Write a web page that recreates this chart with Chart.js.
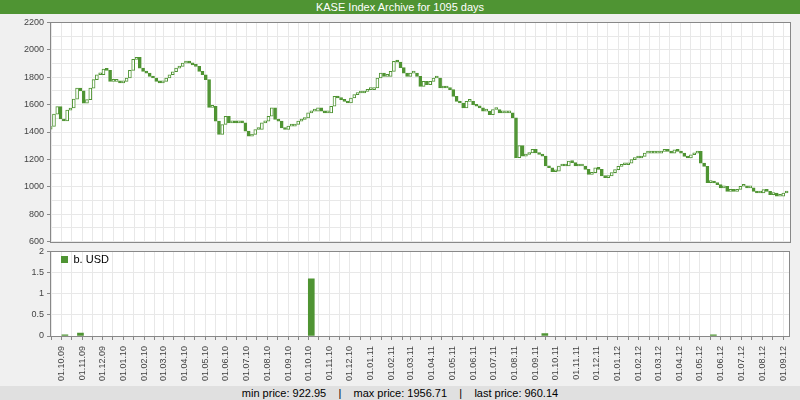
<!DOCTYPE html>
<html>
<head>
<meta charset="utf-8">
<script src="https://cdn.jsdelivr.net/npm/chart.js@4.4.0/dist/chart.umd.min.js"></script>
<style>
  body { margin: 0; width: 800px; height: 400px; background: #f0f0f0; overflow: hidden; font-family: "Liberation Sans", Arial, sans-serif; }
  #title { position: absolute; left: 0; top: 0; width: 800px; height: 14px; background: #4f9433; color: #fff; font-size: 11px; line-height: 14px; text-align: center; }
  #footer { position: absolute; left: 0; top: 386px; width: 800px; height: 14px; background: #e0e0e0; color: #000; font-size: 11px; line-height: 14px; text-align: center; white-space: pre; }
  #priceChart { position: absolute; left: 0; top: 14px; }
  #volChart { position: absolute; left: 0; top: 243px; }
</style>
</head>
<body>
<div id="title">KASE Index Archive for 1095 days</div>
<canvas id="priceChart" width="800" height="236"></canvas>
<canvas id="volChart" width="800" height="143"></canvas>
<div id="footer">min price: 922.95    |    max price: 1956.71    |    last price: 960.14</div>
<script>
const GREEN = "#4f9433";

// left edge of the plot is 14.09.2009, right edge 10.09.2012
const startDate = Date.UTC(2009, 8, 14);
const endDay = 1092;
const sampleDays = 4.87; // roughly one candle per ~5 days

const firstOpen = 1420;
const closes = [
  1440, 1530, 1585, 1495, 1480, 1560, 1575, 1640, 1720, 1700,
  1610, 1636, 1720, 1782, 1818, 1818, 1860, 1850, 1770, 1770,
  1770, 1758, 1770, 1794, 1850, 1930, 1945, 1866, 1842, 1830,
  1806, 1794, 1770, 1758, 1770, 1794, 1818, 1840, 1866, 1879,
  1903, 1915, 1903, 1890, 1879, 1842, 1818, 1782, 1580, 1588,
  1479, 1382, 1455, 1515, 1467, 1479, 1467,
  1479, 1467, 1406, 1370, 1382, 1418, 1418, 1467, 1479, 1515,
  1576, 1491, 1479, 1430, 1418, 1443, 1443, 1455, 1479, 1491,
  1503, 1540, 1552, 1552, 1576, 1552, 1540, 1540, 1588, 1660,
  1648, 1636, 1624, 1612, 1648, 1673, 1685, 1685, 1697, 1709,
  1709, 1721, 1794, 1830, 1806, 1806, 1842, 1915, 1910, 1870,
  1830, 1806, 1830, 1830, 1806, 1733, 1770, 1745,
  1770, 1794, 1794, 1721, 1721, 1721, 1709, 1660, 1624, 1612,
  1576, 1624, 1624, 1600, 1588, 1576, 1552, 1552, 1527, 1564,
  1564, 1540, 1540, 1540, 1540, 1503, 1212, 1300, 1224, 1236,
  1248, 1273, 1248, 1236, 1224, 1152, 1139, 1110, 1115, 1152,
  1152, 1152, 1188, 1176, 1152, 1152, 1152, 1127, 1091, 1103,
  1139, 1127, 1079, 1067, 1079, 1103,
  1125, 1149, 1161, 1161, 1173, 1198, 1210, 1210, 1222, 1246,
  1246, 1246, 1246, 1246, 1258, 1270, 1258, 1246, 1270, 1258,
  1246, 1222, 1210, 1234, 1246, 1258, 1173, 1149, 1030, 1040,
  1028, 1016, 992, 1004, 967, 980, 967, 980, 1004, 1004,
  992, 992, 967, 955, 955, 980, 967, 943, 955, 931,
  931, 955, 960
];

const monthLabels = [
  "01.10.09", "01.11.09", "01.12.09", "01.01.10", "01.02.10", "01.03.10",
  "01.04.10", "01.05.10", "01.06.10", "01.07.10", "01.08.10", "01.09.10",
  "01.10.10", "01.11.10", "01.12.10", "01.01.11", "01.02.11", "01.03.11",
  "01.04.11", "01.05.11", "01.06.11", "01.07.11", "01.08.11", "01.09.11",
  "01.10.11", "01.11.11", "01.12.11", "01.01.12", "01.02.12", "01.03.12",
  "01.04.12", "01.05.12", "01.06.12", "01.07.12", "01.08.12", "01.09.12"
];

// volume, billions of USD
const volDates = ["06.10.09", "29.10.09", "05.10.10", "15.09.11", "21.05.12"];
const volValues = [0.03, 0.07, 1.35, 0.06, 0.03];

function dayOf(label) {
  const [d, m, y] = label.split(".").map(Number);
  return (Date.UTC(2000 + y, m - 1, d) - startDate) / 86400000;
}

// grid at every month start and the 16th in between
const labelAt = new Map();
const gridDays = [dayOf("16.09.09")];
monthLabels.forEach((l) => {
  const d = dayOf(l);
  labelAt.set(d, l);
  gridDays.push(d);
  const parts = l.split(".");
  const mid = dayOf("16." + parts[1] + "." + parts[2]);
  if (mid <= endDay) gridDays.push(mid);
});

const candles = closes.map((c, i) => ({
  x: 1 + i * sampleDays,
  y: [i ? closes[i - 1] : firstOpen, c],
}));
const candleFill = candles.map((c) => (c.y[1] >= c.y[0] ? "#ffffff" : GREEN));

// white plot background and grey frame round it
const frame = {
  id: "frame",
  beforeDraw(chart) {
    const { ctx, chartArea: a } = chart;
    ctx.save();
    ctx.fillStyle = "#ffffff";
    ctx.fillRect(a.left, a.top, a.right - a.left, a.bottom - a.top);
    ctx.restore();
  },
  afterDraw(chart) {
    const { ctx, chartArea: a } = chart;
    ctx.save();
    ctx.strokeStyle = "#888";
    ctx.lineWidth = 1;
    const l = Math.round(a.left) + 0.5, t = Math.round(a.top) + 0.5;
    ctx.strokeRect(l, t, Math.round(a.right) - Math.round(a.left), Math.round(a.bottom) - Math.round(a.top));
    ctx.restore();
  },
};

const tickFont = { family: "Liberation Sans", size: 9 };

function xScale(showLabels) {
  return {
    type: "linear",
    min: 0,
    max: endDay,
    offset: false,
    afterBuildTicks: (s) => { s.ticks = gridDays.map((v) => ({ value: v })); },
    afterFit: showLabels ? (s) => { s.height = 50; } : (s) => { s.height = 0; },
    grid: { color: "#e8e8e8", offset: false, drawTicks: showLabels, tickLength: 4, tickColor: "#888" },
    border: { display: showLabels, color: "#888" },
    ticks: {
      display: showLabels,
      autoSkip: false,
      minRotation: 90,
      maxRotation: 90,
      padding: 6,
      font: tickFont,
      color: "#444",
      callback: (v) => labelAt.get(v) || "",
    },
  };
}

Chart.defaults.font.family = "Liberation Sans";

new Chart(document.getElementById("priceChart"), {
  type: "bar",
  data: {
    datasets: [{
      data: candles,
      backgroundColor: candleFill,
      borderColor: GREEN,
      borderWidth: 1,
      borderSkipped: false,
      barThickness: 3,
      minBarLength: 2,
    }],
  },
  options: {
    responsive: false,
    animation: false,
    devicePixelRatio: 1,
    layout: { padding: { top: 6, right: 10, bottom: 1, left: 0 } },
    plugins: { legend: { display: false }, tooltip: { enabled: false } },
    scales: {
      x: xScale(false),
      y: {
        min: 600,
        max: 2200,
        afterFit: (s) => { s.width = 50; },
        ticks: {
          stepSize: 100,
          autoSkip: false,
          padding: 3,
          font: tickFont,
          color: "#444",
          callback: (v) => (v % 200 === 0 ? v : ""),
        },
        grid: {
          color: "#e8e8e8",
          tickLength: 3,
          tickColor: (c) => (c.tick && c.tick.value % 200 === 0 ? "#888" : "rgba(0,0,0,0)"),
        },
        border: { color: "#888" },
      },
    },
  },
  plugins: [frame],
});

new Chart(document.getElementById("volChart"), {
  type: "bar",
  data: {
    datasets: [{
      label: "b. USD",
      data: volDates.map((d, i) => ({ x: dayOf(d), y: volValues[i] })),
      backgroundColor: GREEN,
      borderWidth: 0,
      barThickness: 6,
    }],
  },
  options: {
    responsive: false,
    animation: false,
    devicePixelRatio: 1,
    layout: { padding: { top: 3, right: 10, bottom: 0, left: 0 } },
    plugins: {
      tooltip: { enabled: false },
      legend: {
        position: "chartArea",
        align: "start",
        labels: { boxWidth: 7, boxHeight: 7, padding: 11, color: "#000", font: { family: "Liberation Sans", size: 11 } },
      },
    },
    scales: {
      x: xScale(true),
      y: {
        min: 0,
        max: 2,
        afterFit: (s) => { s.width = 50; },
        ticks: { stepSize: 0.5, padding: 3, font: tickFont, color: "#444", callback: (v) => String(v) },
        grid: { color: "#e8e8e8", tickLength: 3, tickColor: "#888" },
        border: { color: "#888" },
      },
    },
  },
  plugins: [frame],
});
</script>
</body>
</html>
